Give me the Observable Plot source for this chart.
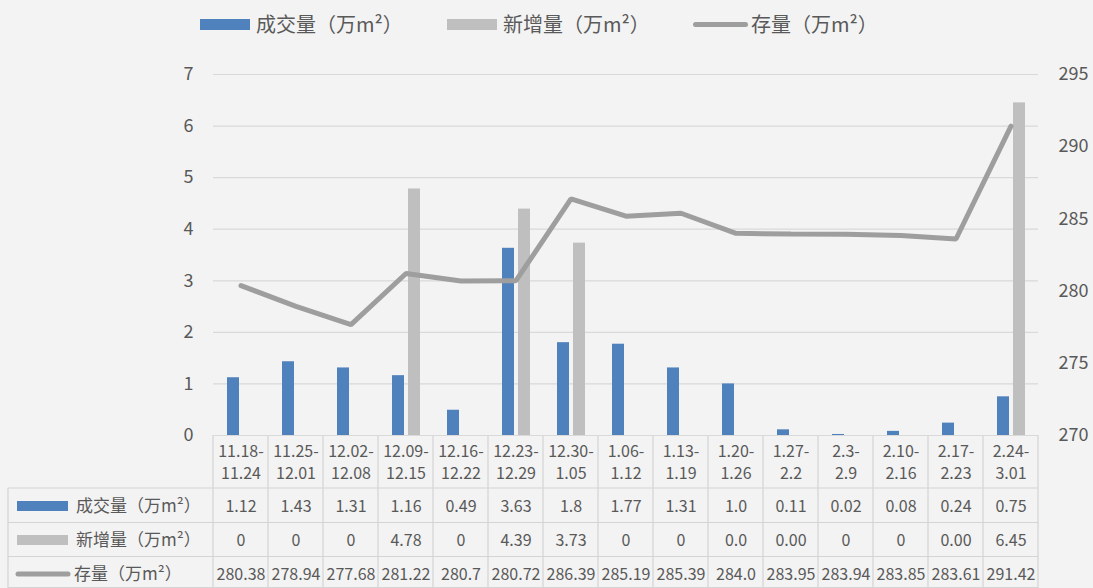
<!DOCTYPE html>
<html>
<head>
<meta charset="utf-8">
<script src="https://cdn.jsdelivr.net/npm/d3@7"></script>
<script src="https://cdn.jsdelivr.net/npm/@observablehq/plot@0.6"></script>
<style>
  html, body { margin: 0; padding: 0; background: #f3f3f3; }
  body { width: 1093px; height: 588px; overflow: hidden; font-family: "Noto Sans CJK SC", "Noto Sans", sans-serif; color: #595959; }
  #legend { position: relative; height: 48px; width: 1093px; }
  .item { position: absolute; top: 10px; display: flex; align-items: center; font-size: 20px; line-height: 28px; color: #595959; white-space: nowrap; }
  .sw { display: inline-block; width: 50px; height: 11px; margin-right: 6px; }
  .ln { display: inline-block; width: 55px; height: 5px; border-radius: 3px; margin-right: 3px; }
</style>
</head>
<body>
<div id="legend"></div>
<div id="chart"></div>
<script>
// ---- data ----
const periods = ["11.18-11.24","11.25-12.01","12.02-12.08","12.09-12.15","12.16-12.22","12.23-12.29","12.30-1.05","1.06-1.12","1.13-1.19","1.20-1.26","1.27-2.2","2.3-2.9","2.10-2.16","2.17-2.23","2.24-3.01"];
const deals   = ["1.12","1.43","1.31","1.16","0.49","3.63","1.8","1.77","1.31","1.0","0.11","0.02","0.08","0.24","0.75"];
const added   = ["0","0","0","4.78","0","4.39","3.73","0","0","0.0","0.00","0","0","0.00","6.45"];
const stock   = ["280.38","278.94","277.68","281.22","280.7","280.72","286.39","285.19","285.39","284.0","283.95","283.94","283.85","283.61","291.42"];
const leftTicks  = [0,1,2,3,4,5,6,7];
const rightTicks = [270,275,280,285,290,295];
const seriesNames = ["成交量（万m²）","新增量（万m²）","存量（万m²）"];
const colors = ["#4F81BD","#BFBFBF","#9E9E9E"];

const rows = periods.map((p,i) => ({period: p, start: p.split("-")[0] + "-", end: p.split("-")[1],
                                    deal: deals[i], added: added[i], stock: stock[i]}));
const toLeft = v => (v - 270) * 7 / 25;   // map right axis (270-295) into left axis domain (0-7)

// ---- legend ----
const legend = document.getElementById("legend");
const legendPos = [200, 447, 693];
seriesNames.forEach((name, i) => {
  const it = document.createElement("div");
  it.className = "item";
  it.style.left = legendPos[i] + "px";
  const s = document.createElement("span");
  s.className = i < 2 ? "sw" : "ln";
  s.style.background = colors[i];
  it.appendChild(s);
  it.appendChild(document.createTextNode(name));
  legend.appendChild(it);
});

// ---- chart ----
const W = 1093, H = 540, mt = 26, mb = 153, ml = 213, mr = 55;
const font = "Noto Sans CJK SC, Noto Sans, sans-serif";
const cell = {x: "period", frameAnchor: "bottom", lineAnchor: "middle", fontSize: 16, fill: "#595959"};
const chart = Plot.plot({
  width: W, height: H,
  marginTop: mt, marginBottom: mb, marginLeft: ml, marginRight: mr,
  style: {background: "transparent", fontFamily: font, color: "#595959"},
  x: {type: "band", domain: periods, padding: 0, axis: null},
  y: {domain: [0, 7]},
  marks: [
    Plot.gridY(leftTicks, {stroke: "#d9d9d9", strokeOpacity: 1, strokeWidth: 1.2}),
    Plot.barY(rows, {x: "period", y: d => +d.deal, fill: colors[0], insetLeft: 14, insetRight: 29}),
    Plot.barY(rows, {x: "period", y: d => +d.added, fill: colors[1], insetLeft: 30, insetRight: 13}),
    Plot.line(rows, {x: "period", y: d => toLeft(+d.stock), stroke: colors[2], strokeWidth: 5, strokeLinejoin: "miter"}),
    Plot.axisY({ticks: leftTicks, tickSize: 0, tickPadding: 20, fontSize: 18, tickFormat: d => d, label: null}),
    Plot.axisY({anchor: "right", ticks: rightTicks.map(toLeft), tickSize: 0, tickPadding: 20, fontSize: 18,
                tickFormat: d => Math.round(270 + d * 25 / 7), label: null}),
    Plot.text(rows, {...cell, text: "start", dy: 16}),
    Plot.text(rows, {...cell, text: "end",   dy: 38}),
    Plot.text(rows, {...cell, text: "deal",  dy: 71}),
    Plot.text(rows, {...cell, text: "added", dy: 105}),
    Plot.text(rows, {...cell, text: "stock", dy: 139})
  ]
});
document.getElementById("chart").appendChild(chart);

// ---- data-table grid and row headers (positions from Plot's x scale) ----
const xs = chart.scale("x");
const bw = xs.bandwidth;
const svg = d3.select(chart);
const g = svg.insert("g", ":first-child").attr("stroke", "#d4d4d4").attr("stroke-width", 1.2);
const fb = H - mb;                   // frame bottom
const rowTops = [fb + 53, fb + 87.5, fb + 121.5];
const left = 8, right = xs.apply(periods[periods.length - 1]) + bw;
const edges = periods.map(p => xs.apply(p)).concat([right]);
edges.forEach(x => g.append("line").attr("x1", x).attr("x2", x).attr("y1", fb).attr("y2", H));
g.append("line").attr("x1", left).attr("x2", left).attr("y1", rowTops[0]).attr("y2", H);
rowTops.forEach(y => g.append("line").attr("x1", left).attr("x2", right).attr("y1", y).attr("y2", y));
g.append("line").attr("x1", left).attr("x2", right).attr("y1", H - 0.5).attr("y2", H - 0.5);

const rowCenters = [fb + 71, fb + 105, fb + 139];
const hdr = svg.append("g");
seriesNames.forEach((name, i) => {
  if (i < 2) {
    hdr.append("rect").attr("x", 17).attr("y", rowCenters[i] - 5).attr("width", 51).attr("height", 10).attr("fill", colors[i]);
  } else {
    hdr.append("line").attr("x1", 18).attr("x2", 68).attr("y1", rowCenters[i]).attr("y2", rowCenters[i])
      .attr("stroke", colors[i]).attr("stroke-width", 5).attr("stroke-linecap", "round");
  }
  hdr.append("text").attr("x", i < 2 ? 76 : 74).attr("y", rowCenters[i]).attr("dy", "0.35em")
    .attr("text-anchor", "start")
    .attr("font-size", 17).attr("fill", "#595959").attr("font-family", font).text(name);
});
</script>
</body>
</html>
